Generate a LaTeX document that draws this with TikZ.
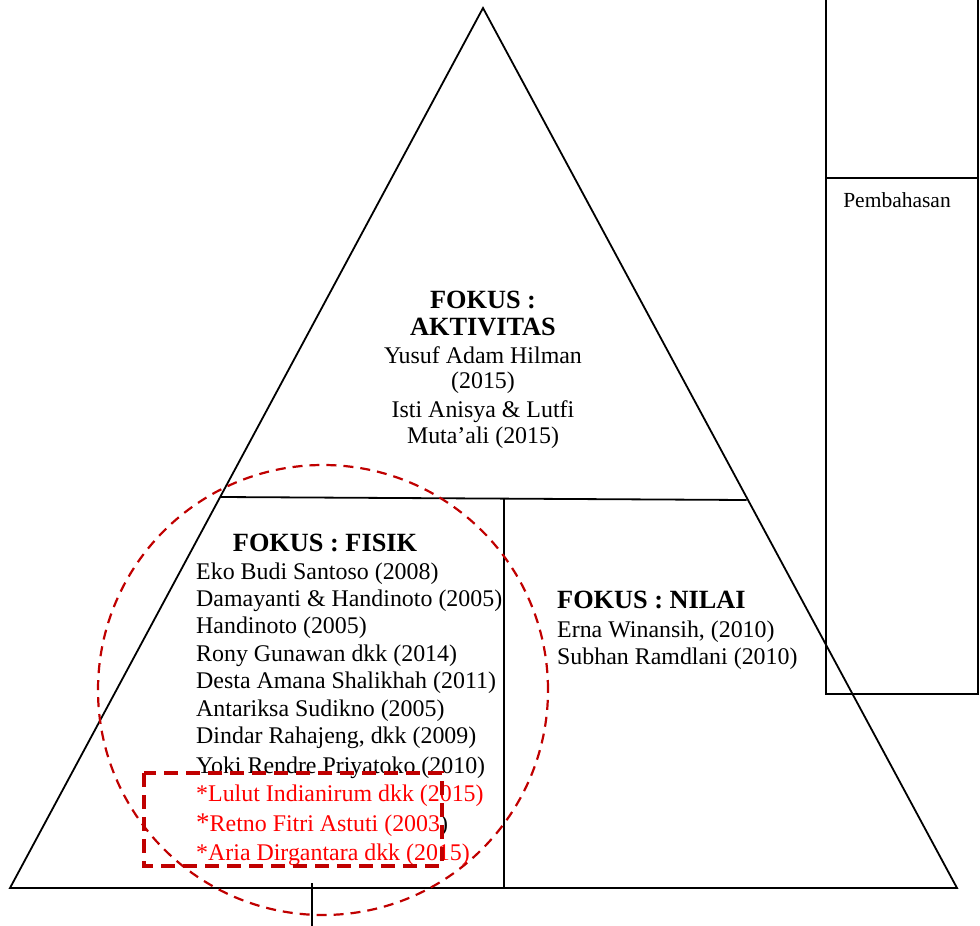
\documentclass[tikz,border=0pt]{standalone}
\usepackage{fontspec}
\setmainfont{Liberation Serif}
\definecolor{darkred}{HTML}{C00000}
\definecolor{namered}{HTML}{FF0000}
\tikzset{
  frame/.style={line width=1.8pt, black},
  entry/.style={anchor=base west, inner sep=0pt, font=\fontsize{23.9}{28}\selectfont},
  centry/.style={anchor=base, inner sep=0pt, font=\fontsize{23.9}{28}\selectfont},
  heading/.style={anchor=base, inner sep=0pt, font=\fontsize{26.3}{30}\selectfont\bfseries},
  hleft/.style={anchor=base west, inner sep=0pt, font=\fontsize{26.3}{30}\selectfont\bfseries},
  marked/.style={text=namered},
  ring/.style={darkred, line width=2.2pt, dash pattern=on 10pt off 7pt},
  markbox/.style={darkred, line width=4pt, dash pattern=on 14pt off 8pt}
}
\begin{document}
\begin{tikzpicture}[x=1pt, y=-1pt]
\useasboundingbox (0,0) rectangle (980,926);
\fill[white] (0,0) rectangle (980,926);

% main pyramid
\coordinate (apex) at (483,8);
\coordinate (bl) at (10,888);
\coordinate (br) at (957,888);
\coordinate (ml) at (220.5,497);
\coordinate (mr) at (746.5,500);
\coordinate (vt) at (504,499);
\coordinate (vb) at (504,888);
\coordinate (pt) at (312,883);
\coordinate (pb) at (312,926);
\draw[frame, line join=miter] (apex) -- (bl) -- (br) -- cycle;
\draw[frame] (ml) -- (mr);
\draw[frame] (vt) -- (vb);
\draw[frame, line width=1.3pt] (pt) -- (pb);

% side column
\coordinate (c1) at (826,-3);
\coordinate (c2) at (978,694);
\draw[frame] (c1) rectangle (c2);
\draw[frame] (826,178) -- (978,178);
\node[anchor=base, inner sep=0pt, font=\fontsize{21.5}{25}\selectfont] (pemb) at (897,207) {Pembahasan};

% top section
\node[heading] (h1) at (483,308) {FOKUS :};
\node[heading] (h1b) at (483,335) {AKTIVITAS};
\node[centry] (a1) at (483,363) {Yusuf Adam Hilman};
\node[centry] (a2) at (483,388) {(2015)};
\node[centry] (a3) at (483,417) {Isti Anisya \& Lutfi};
\node[centry] (a4) at (483,443) {Muta’ali (2015)};

% physical focus
\node[heading] (h2) at (325,551) {FOKUS : FISIK};
\node[entry] (f1) at (196,579) {Eko Budi Santoso (2008)};
\node[entry] (f2) at (196,606) {Damayanti \& Handinoto (2005)};
\node[entry] (f3) at (196,633) {Handinoto (2005)};
\node[entry] (f4) at (196,661) {Rony Gunawan dkk (2014)};
\node[entry] (f5) at (196,688) {Desta Amana Shalikhah (2011)};
\node[entry] (f6) at (196,716) {Antariksa Sudikno (2005)};
\node[entry] (f7) at (196,743) {Dindar Rahajeng, dkk (2009)};
\node[entry] (f8) at (196,773) {Yoki Rendre Priyatoko (2010)};
\node[entry, marked] (f9) at (196,801) {*Lulut Indianirum dkk (2015)};
\node[entry] (f10) at (196,831) {\textcolor{namered}{{\fontsize{27}{28}\selectfont *}Retno Fitri Astuti (2003}{)}};
\node[entry, marked] (f11) at (196,860) {*Aria Dirgantara dkk (2015)};

% value focus
\node[hleft] (h3) at (557,608) {FOKUS : NILAI};
\node[entry] (n1) at (557,637) {Erna Winansih, (2010)};
\node[entry] (n2) at (557,664) {Subhan Ramdlani (2010)};

% highlight marks
\node[ring, draw, circle, minimum size=450pt, inner sep=0pt] (ringnode) at (323,690) {};
\coordinate (b1) at (144,773);
\coordinate (b2) at (442,866);
\draw[markbox] (b1) rectangle (b2);
\end{tikzpicture}
\end{document}
